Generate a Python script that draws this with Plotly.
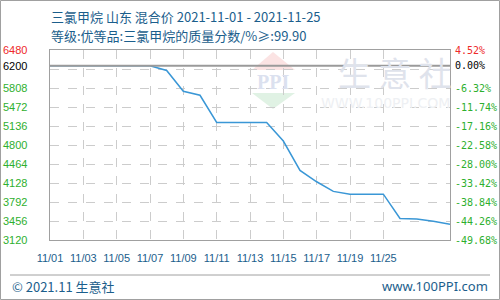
import plotly.graph_objects as go

# ---- data ----
dates = ["11/%02d" % d for d in range(1, 26)]
prices = [6200, 6200, 6200, 6200, 6200, 6200, 6200, 6117, 5750, 5680,
          5200, 5200, 5200, 5200, 4870, 4350, 4150, 3980, 3930, 3930,
          3930, 3500, 3490, 3450, 3400]
tick_labels = ["11/01", "11/03", "11/05", "11/07", "11/09", "11/11",
               "11/13", "11/15", "11/17", "11/19", "11/25"]
base_price = 6200
y_min, y_max, y_step = 3120, 6480, 336
grid_vals = [y_min + y_step * k for k in range(11)]
label_vals = grid_vals[:9] + [base_price, y_max]

title1 = "三氯甲烷 山东 混合价 2021-11-01 - 2021-11-25"
title2 = "等级:优等品:三氯甲烷的质量分数/%≥:99.90"
footer_left = "© 2021.11 生意社"
footer_right = "www.100PPI.com"

W, H = 500, 300
L, R, T, B = 50, 50, 50, 60
PW, PH = W - L - R, H - T - B

def px(x):
    return (x - L) / PW

def py(y):
    return (H - B - y) / PH

TXT = "#1b5e8c"
GREEN = "#2eaf2e"
RED = "#ee2a2a"

fig = go.Figure()
fig.add_trace(go.Scatter(
    x=list(range(len(dates))), y=prices, mode="lines",
    line=dict(color="#3a97d6", width=1.5), hoverinfo="skip",
    showlegend=False))

shapes = []
annotations = []

# watermark logo
shapes.append(dict(type="path", xref="paper", yref="paper", layer="below",
                   path=f"M {px(273)},{py(52)} L {px(252)},{py(70)} L {px(295)},{py(70)} Z",
                   fillcolor="#fbe3e3", line=dict(width=0)))
shapes.append(dict(type="path", xref="paper", yref="paper", layer="below",
                   path=f"M {px(252)},{py(93)} L {px(295)},{py(93)} L {px(273)},{py(109)} Z",
                   fillcolor="#e0f2e4", line=dict(width=0)))
annotations.append(dict(xref="paper", yref="paper", x=px(273), y=py(82),
                        text="<b>PPI</b>", showarrow=False,
                        font=dict(family="Liberation Serif", size=20, color="#dbe1ef"),
                        xanchor="center", yanchor="middle"))
annotations.append(dict(xref="paper", yref="paper", x=px(395), y=py(72),
                        text="生 意 社", showarrow=False,
                        font=dict(family="Noto Sans CJK SC", size=33, color="#dfe3ec"),
                        xanchor="center", yanchor="middle"))
annotations.append(dict(xref="paper", yref="paper", x=px(385), y=py(103),
                        text="WWW.100PPI.COM", showarrow=False,
                        font=dict(family="DejaVu Sans", size=14, color="#eef0f3"),
                        xanchor="center", yanchor="middle"))

# base price line
shapes.append(dict(type="line", xref="paper", yref="y", x0=0, x1=1,
                   y0=base_price, y1=base_price, layer="above",
                   line=dict(color="#9a9a9a", width=2)))

# outer border
shapes.append(dict(type="rect", xref="paper", yref="paper",
                   x0=px(0.5), x1=px(W - 0.5), y0=py(H - 0.5), y1=py(0.5),
                   line=dict(color="#a0a0a0", width=1)))
# footer line
shapes.append(dict(type="line", xref="paper", yref="paper",
                   x0=px(10), x1=px(490), y0=py(275), y1=py(275),
                   line=dict(color="#a0a0a0", width=1)))

# y labels
for v in label_vals:
    col = RED if v == y_max else ("#000000" if v == base_price else GREEN)
    pct = (v - base_price) / base_price * 100
    annotations.append(dict(xref="paper", yref="y", x=0, y=v, text=str(v),
                            showarrow=False, xanchor="right", yanchor="middle",
                            xshift=-21,
                            font=dict(family="Liberation Sans", size=11, color=col)))
    annotations.append(dict(xref="paper", yref="y", x=1, y=v, text=f"{pct:.2f}%",
                            showarrow=False, xanchor="left", yanchor="middle",
                            xshift=3,
                            font=dict(family="DejaVu Sans Mono", size=10, color=col)))

# titles
annotations.append(dict(xref="paper", yref="paper", x=px(49), y=py(16), text=title1,
                        showarrow=False, xanchor="left", yanchor="middle",
                        font=dict(family="Noto Sans CJK SC", size=13, color=TXT)))
annotations.append(dict(xref="paper", yref="paper", x=px(49), y=py(35), text=title2,
                        showarrow=False, xanchor="left", yanchor="middle",
                        font=dict(family="Noto Sans CJK SC", size=13, color=TXT)))
annotations.append(dict(xref="paper", yref="paper", x=px(10), y=py(286), text=footer_left,
                        showarrow=False, xanchor="left", yanchor="middle",
                        font=dict(family="Noto Sans CJK SC", size=13, color=TXT)))
annotations.append(dict(xref="paper", yref="paper", x=px(490), y=py(286), text=footer_right,
                        showarrow=False, xanchor="right", yanchor="middle",
                        font=dict(family="Noto Sans", size=13, color=TXT)))

fig.update_layout(
    width=W, height=H,
    margin=dict(l=L, r=R, t=T, b=B, pad=0),
    paper_bgcolor="white", plot_bgcolor="white",
    shapes=shapes, annotations=annotations,
    xaxis=dict(range=[0, len(dates) - 1], tickmode="array",
               tickvals=list(range(0, 2 * len(tick_labels), 2)),
               ticktext=tick_labels, showgrid=True, gridcolor="#cccccc",
               griddash="dash", gridwidth=1, zeroline=False,
               showline=True, linecolor="#a0a0a0", linewidth=1, mirror=True,
               ticks="", ticklabelstandoff=8,
               tickfont=dict(family="Liberation Sans", size=11, color=TXT)),
    yaxis=dict(range=[y_min, y_max], tickmode="array", tickvals=grid_vals,
               showticklabels=False, showgrid=True, gridcolor="#cccccc",
               griddash="dash", gridwidth=1, zeroline=False,
               showline=True, linecolor="#a0a0a0", linewidth=1, mirror=True,
               ticks=""),
)

fig.write_html("out.html")
